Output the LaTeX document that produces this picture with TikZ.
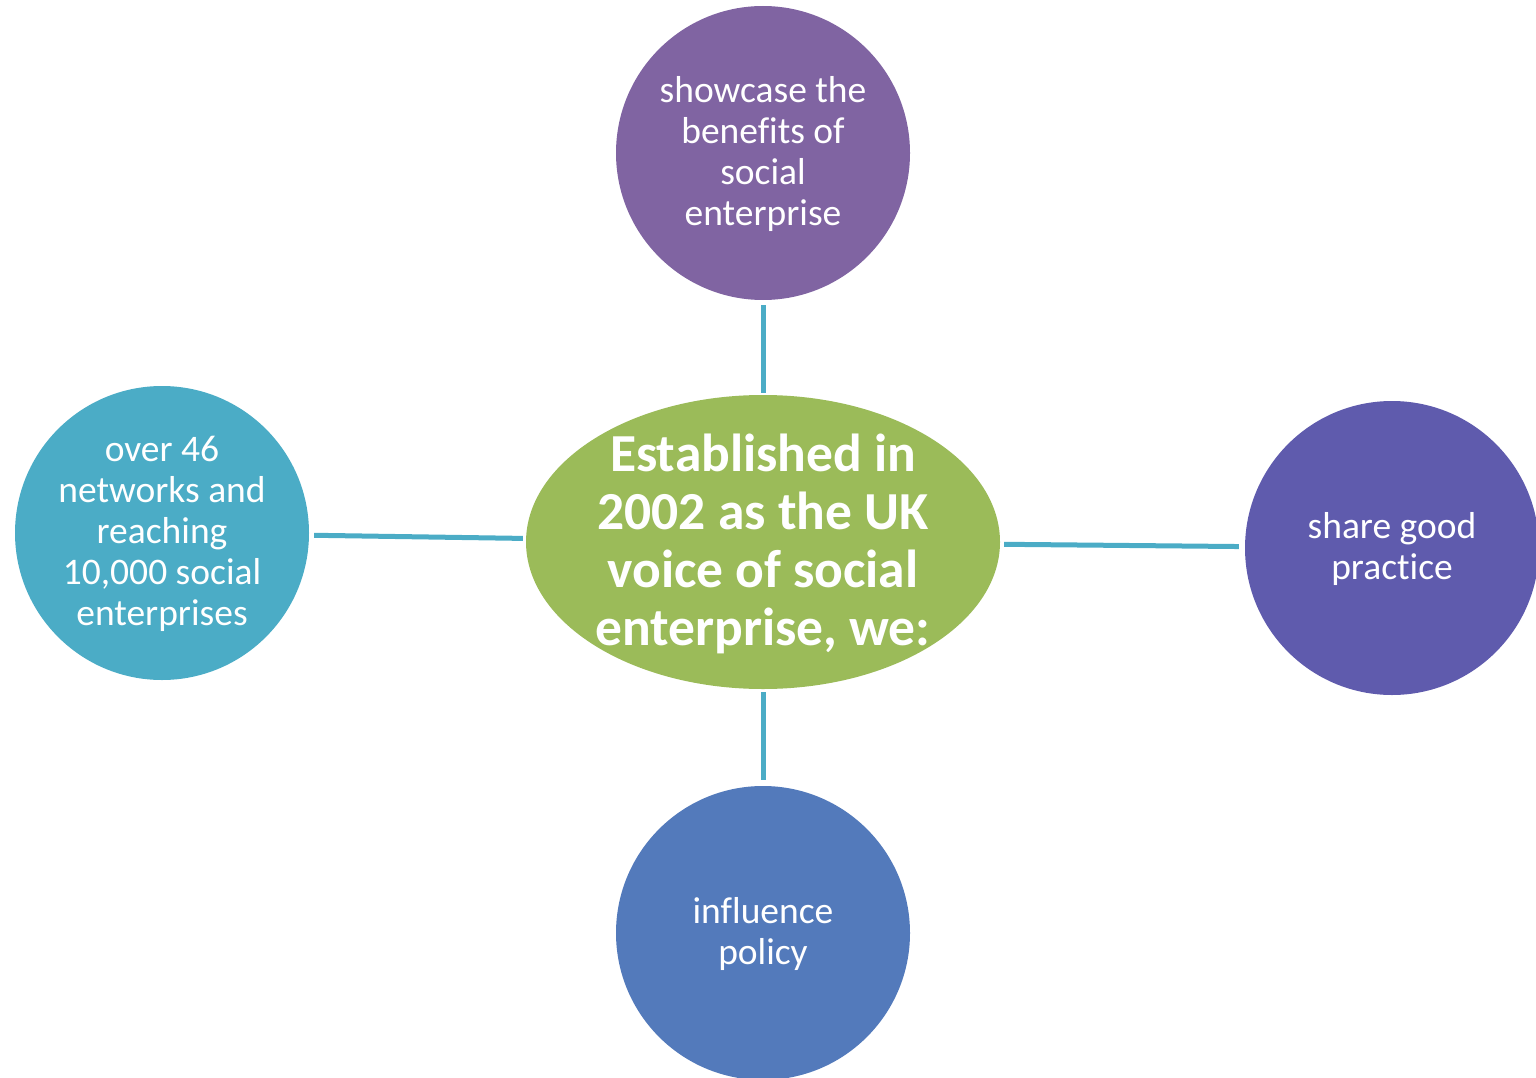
\documentclass[tikz,border=0pt]{standalone}
\usepackage{fontspec}
\setmainfont{Carlito}[Ligatures=NoCommon]
\usetikzlibrary{shapes.geometric}
\definecolor{cgreen}{HTML}{9BBB59}
\definecolor{cpurple}{HTML}{8064A2}
\definecolor{cviolet}{HTML}{5F5BAD}
\definecolor{cblue}{HTML}{537ABB}
\definecolor{cteal}{HTML}{4BACC6}
\tikzset{
  bubble/.style={circle, minimum size=294pt, inner sep=0pt, draw=none},
  hub/.style={ellipse, minimum width=474pt, minimum height=294pt, inner sep=0pt, draw=none, fill=cgreen},
  smalltxt/.style={text=white, align=center, font=\fontsize{37.5}{41}\selectfont},
  bigtxt/.style={text=white, align=center, font=\fontsize{53.5}{58}\selectfont\bfseries},
  link/.style={draw=cteal, line width=5pt}
}
\begin{document}
\begin{tikzpicture}[x=1pt,y=-1pt]
\useasboundingbox (0,0) rectangle (1536,1078);
\node[hub] (c) at (763,542) {};
\node[bubble, fill=cpurple] (t) at (763,153) {};
\node[bubble, fill=cblue] (b) at (763,933) {};
\node[bubble, fill=cteal] (l) at (162,533) {};
\node[bubble, fill=cviolet] (r) at (1392,548) {};
\node[bigtxt] (ct) at ([yshift=-2pt]c.center) {Established in\\2002 as the UK\\voice of social\\enterprise, we:};
\node[smalltxt] (tt) at ([yshift=-1pt]t.center) {showcase the\\benefits of\\social\\enterprise};
\node[smalltxt] (bt) at ([yshift=-1pt]b.center) {influence\\policy};
\node[smalltxt] (lt) at ([yshift=-1pt]l.center) {over 46\\networks and\\reaching\\10,000 social\\enterprises};
\node[smalltxt] (rt) at ([yshift=-1pt]r.center) {share good\\practice};
\draw[link, shorten <=5pt, shorten >=2pt] (t) -- (c);
\draw[link, shorten <=3pt, shorten >=6pt] (c) -- (b);
\draw[link, shorten <=5pt, shorten >=3pt] (l) -- (c);
\draw[link, shorten <=4pt, shorten >=6pt] (c) -- (r);
\end{tikzpicture}
\end{document}
